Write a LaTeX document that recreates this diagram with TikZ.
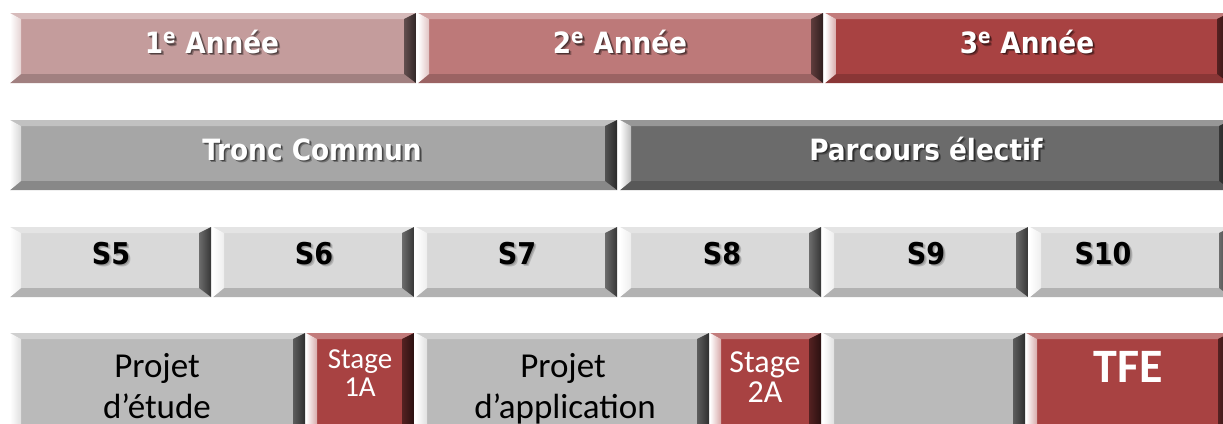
\documentclass[tikz,border=0pt]{standalone}
\usepackage{fontspec}
\newfontfamily\headfont{DejaVu Sans Condensed}
\newfontfamily\bodyfont{Carlito}

\definecolor{yearA}{RGB}{196,156,156}
\definecolor{yearB}{RGB}{189,121,121}
\definecolor{yearC}{RGB}{168,66,66}
\definecolor{tronc}{RGB}{166,166,166}
\definecolor{electif}{RGB}{107,107,107}
\definecolor{semestre}{RGB}{217,217,217}
\definecolor{projet}{RGB}{186,186,186}

\tikzset{
  % flat box with a light left/top bevel and a dark right/bottom bevel
  bevel/.style={rectangle, inner sep=0pt, outer sep=0pt, anchor=north west, fill=#1,
    path picture={
      \coordinate (bvA) at (path picture bounding box.north west);
      \coordinate (bvC) at (path picture bounding box.south east);
      \coordinate (bvB) at (bvA -| bvC);
      \coordinate (bvD) at (bvA |- bvC);
      \coordinate (bva) at ([shift={(11pt,-6pt)}]bvA);
      \coordinate (bvb) at ([shift={(-12pt,-6pt)}]bvB);
      \coordinate (bvc) at ([shift={(-12pt,9pt)}]bvC);
      \coordinate (bvd) at ([shift={(11pt,9pt)}]bvD);
      \fill[#1!70!white] (bvA) -- (bvB) -- (bvb) -- (bva) -- cycle;
      \fill[#1!82!black] (bvD) -- (bvC) -- (bvc) -- (bvd) -- cycle;
      \shade[left color=white, right color=#1!45!white] (bvA) -- (bva) -- (bvd) -- (bvD) -- cycle;
      \shade[left color=#1!50!black, right color=#1!25!black] (bvB) -- (bvb) -- (bvc) -- (bvC) -- cycle;
    }},
  headtxt/.style={font=\headfont\bfseries\fontsize{29.3}{33}\selectfont, text=white, anchor=base, inner sep=0pt},
  semtxt/.style={font=\headfont\bfseries\fontsize{30}{34}\selectfont, text=black, anchor=base, inner sep=0pt},
  projtxt/.style={font=\bodyfont\fontsize{35}{43}\selectfont, text=black, anchor=base, inner sep=0pt},
  stagetxt/.style={font=\bodyfont\fontsize{#1}{#1}\selectfont, text=white, anchor=base, inner sep=0pt},
  tfetxt/.style={font=\bodyfont\bfseries\fontsize{48}{52}\selectfont, text=white, anchor=base, inner sep=0pt},
}

% box name, x1, y1, x2, y2, colour (pixel-like units, y downwards)
\newcommand\bevbox[6]{%
  \node[bevel=#6, minimum width={(#4-#2)*1pt}, minimum height={(#5-#3)*1pt}] (#1) at (#2,#3) {};}

% label with a soft drop shadow: name, style, shadow colour, position, text
\newcommand\shadowlabel[5]{%
  \node[#2, text=#3, opacity=.3, xshift=2.4pt, yshift=-2.4pt] at (#4) {#5};
  \node[#2, text=#3, opacity=.4, xshift=1.3pt, yshift=-1.3pt] at (#4) {#5};
  \node[#2] (#1) at (#4) {#5};}

\begin{document}
\begin{tikzpicture}[x=1pt, y=-1pt]
\useasboundingbox (0,0) rectangle (1223,423);
\clip (0,0) rectangle (1223,423);

% years
\bevbox{an1}{10}{13}{416}{83}{yearA}
\bevbox{an2}{418}{13}{823}{83}{yearB}
\bevbox{an3}{825}{13}{1229}{83}{yearC}
\shadowlabel{an1t}{headtxt}{black}{212,53}{1\textsuperscript{e} Année}
\shadowlabel{an2t}{headtxt}{black}{620,53}{2\textsuperscript{e} Année}
\shadowlabel{an3t}{headtxt}{black}{1027,53}{3\textsuperscript{e} Année}

% tracks
\bevbox{tc}{10}{120}{617}{190}{tronc}
\bevbox{pe}{620}{120}{1231}{190}{electif}
\shadowlabel{tct}{headtxt}{black}{312,160}{Tronc Commun}
\shadowlabel{pet}{headtxt}{black}{926,160}{Parcours électif}

% semesters
\bevbox{s5}{10}{227}{211}{297}{semestre}
\bevbox{s6}{213}{227}{414}{297}{semestre}
\bevbox{s7}{416}{227}{617}{297}{semestre}
\bevbox{s8}{620}{227}{821}{297}{semestre}
\bevbox{s9}{823}{227}{1028}{297}{semestre}
\bevbox{s10}{1030}{227}{1231}{297}{semestre}
\shadowlabel{s5t}{semtxt}{black!60}{111,264}{S5}
\shadowlabel{s6t}{semtxt}{black!60}{314,264}{S6}
\shadowlabel{s7t}{semtxt}{black!60}{517,264}{S7}
\shadowlabel{s8t}{semtxt}{black!60}{722,264}{S8}
\shadowlabel{s9t}{semtxt}{black!60}{926,264}{S9}
\shadowlabel{s10t}{semtxt}{black!60}{1103,264}{S10}

% projects and internships
\bevbox{pet1}{10}{333}{305}{460}{projet}
\bevbox{st1}{306}{333}{414}{460}{yearC}
\bevbox{pap}{416}{333}{709}{460}{projet}
\bevbox{st2}{710}{333}{821}{460}{yearC}
\bevbox{libre}{823}{333}{1025}{460}{projet}
\bevbox{tfe}{1026}{333}{1230}{460}{yearC}

\node[projtxt] (pet1a) at (157,377) {Projet};
\node[projtxt] (pet1b) at (157,418) {d’étude};
\node[stagetxt=29] (st1a) at (360,368) {Stage};
\node[stagetxt=29] (st1b) at (360,396) {1A};
\node[projtxt] (papa) at (563,377) {Projet};
\node[projtxt] (papb) at (565,418) {d’application};
\node[stagetxt=32] (st2a) at (765,372) {Stage};
\node[stagetxt=32] (st2b) at (765,402) {2A};
\node[tfetxt] (tfet) at (1128,382) {TFE};
\end{tikzpicture}
\end{document}
